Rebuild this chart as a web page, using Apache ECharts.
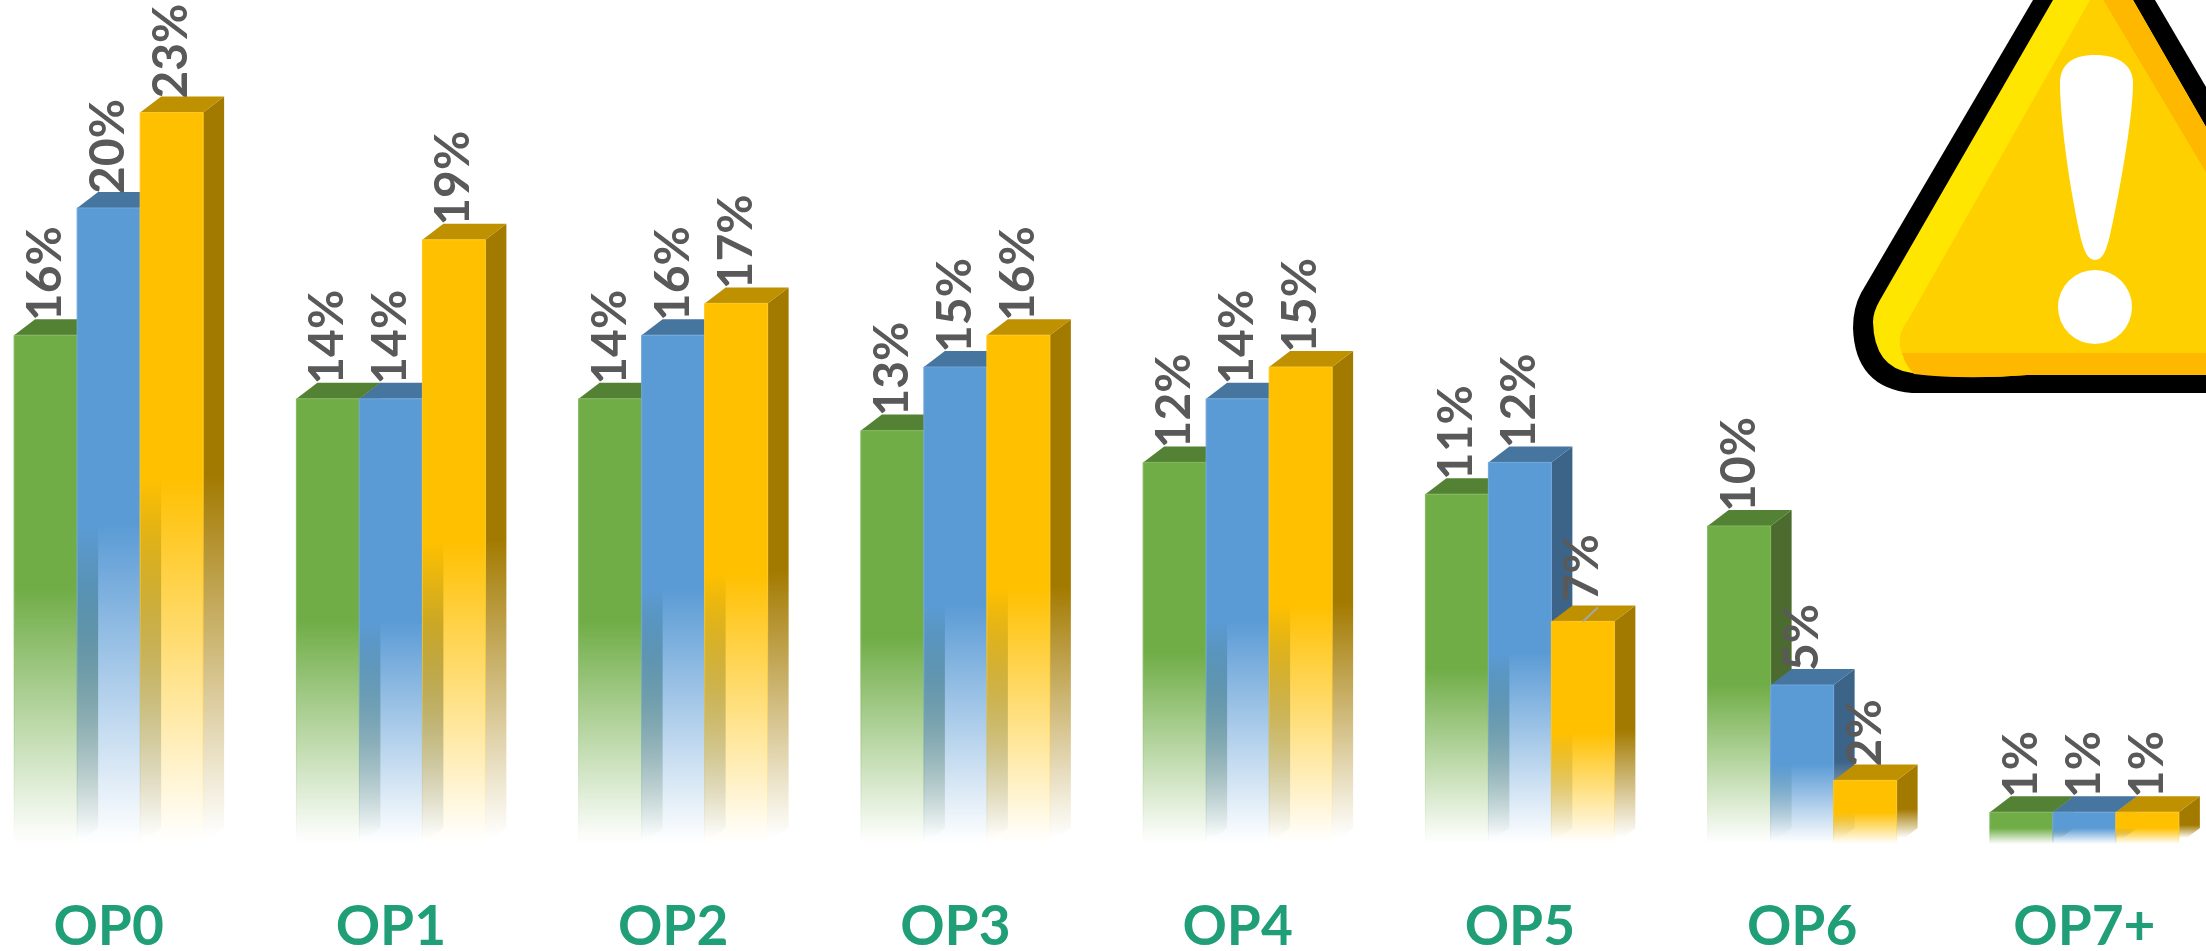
<!DOCTYPE html>
<html>
<head>
<meta charset="utf-8">
<style>html,body{margin:0;padding:0;background:#fff}#chart{width:2206px;height:951px}</style>
<script src="https://cdn.jsdelivr.net/npm/echarts@6/dist/echarts.min.js"></script>
</head>
<body>
<div id="chart"></div>
<script>
const categories = ['OP0', 'OP1', 'OP2', 'OP3', 'OP4', 'OP5', 'OP6', 'OP7+'];
const greenValues = [16, 14, 14, 13, 12, 11, 10, 1];
const blueValues = [20, 14, 16, 15, 14, 12, 5, 1];
const yellowValues = [23, 19, 17, 16, 15, 7, 2, 1];

// front, top and side face colours of each column
const palettes = [
  { front: [112, 173, 71], top: [84, 130, 53], side: [75, 108, 46] },
  { front: [91, 155, 213], top: [70, 117, 160], side: [60, 100, 137] },
  { front: [255, 192, 0], top: [191, 144, 0], side: [163, 122, 0] }
];
const BAR_W = 63, DEPTH_X = 21, DEPTH_Y = 16, LABEL_GAP = 14, LEADER_LIFT = 6;

function rgba(c, a) { return 'rgba(' + c[0] + ',' + c[1] + ',' + c[2] + ',' + a + ')'; }

// Solid in the upper half of the column, fading to nothing at its foot.
function fade(c, topY, baseY) {
  return new echarts.graphic.LinearGradient(0, topY, 0, baseY, [
    { offset: 0, color: rgba(c, 1) },
    { offset: 0.5, color: rgba(c, 1) },
    { offset: 0.98, color: rgba(c, 0.03) },
    { offset: 1, color: rgba(c, 0) }
  ], true);
}
function fadeEdge(c, topY, baseY) {
  const light = c.map(v => Math.round(v + (255 - v) * 0.12));
  return fade(light, topY, baseY);
}

// x offset of a column inside its category band
function slotX(api, slot) {
  const cx = api.coord([api.value(0), 0])[0];
  return cx - BAR_W * 1.5 + BAR_W * slot;
}

function barRenderer(slot) {
  const pal = palettes[slot];
  return function (params, api) {
    const x0 = slotX(api, slot), x1 = x0 + BAR_W;
    const yBase = api.coord([api.value(0), 0])[1];
    const yTop = api.coord([api.value(0), api.value(1)])[1];
    return {
      type: 'group',
      children: [
        { type: 'polygon', shape: { points: [[x1, yTop], [x1 + DEPTH_X, yTop - DEPTH_Y], [x1 + DEPTH_X, yBase - DEPTH_Y], [x1, yBase]] },
          style: { fill: new echarts.graphic.LinearGradient(0, yTop, 0, yBase - 6, [
            { offset: 0, color: rgba(pal.side, 1) }, { offset: 0.5, color: rgba(pal.side, 1) }, { offset: 1, color: rgba(pal.side, 0) }
          ], true) } },
        { type: 'polygon', shape: { points: [[x0, yTop], [x0 + DEPTH_X, yTop - DEPTH_Y], [x1 + DEPTH_X, yTop - DEPTH_Y], [x1, yTop]] },
          style: { fill: rgba(pal.top, 1) } },
        { type: 'rect', shape: { x: x0, y: yTop, width: BAR_W, height: yBase - yTop },
          style: { fill: fade(pal.front, yTop, yBase), stroke: fadeEdge(pal.front, yTop, yBase), lineWidth: 1 } }
      ]
    };
  };
}

function labelRenderer(slot) {
  return function (params, api) {
    const x = slotX(api, slot) + BAR_W / 2;
    const yTop = api.coord([api.value(0), api.value(1)])[1];
    // The one label pulled away from its column keeps a short leader line.
    const pulled = slot === 2 && api.value(1) === 7;
    const children = [{
      type: 'text',
      x: x, y: yTop - LABEL_GAP - (pulled ? LEADER_LIFT : 0), rotation: Math.PI / 2,
      style: {
        text: api.value(1) + '%', align: 'left', verticalAlign: 'middle',
        font: 'bold 48px Lato', fill: '#595959'
      }
    }];
    if (pulled) {
      children.push({
        type: 'line', shape: { x1: x, y1: yTop, x2: x + 15, y2: yTop - 14 },
        style: { stroke: '#A6A6A6', lineWidth: 2 }
      });
    }
    return { type: 'group', children: children };
  };
}

// Warning sign standing in the upper right corner
const signPaths = [
  { fill: '#000000', d: 'M2033,0 L1861,293 Q1853,308 1853,328 Q1855,388 1912,393 L2206,393 L2206,87 L2155,0 Z' },
  { fill: '#FFE600', d: 'M2053,0 L1880,300 Q1873,312 1873,322 Q1874,368 1912,373 Q1965,380 2027,375 L2206,375 L2206,127 L2133,0 Z' },
  { fill: '#FFB800', d: 'M2103,0 L2133,0 L2206,127 L2206,375 L2027,375 Q1965,380 1914,374 Q1905,365 1902,353 L2206,353 L2206,173 Z' },
  { fill: '#FFD000', d: 'M2090,0 L2103,0 L2206,173 L2206,353 L1902,353 Q1895,337 1908,320 Z' },
  { fill: '#FFFFFF', d: 'M2095,55 C2072,55 2060,65 2060,83 C2060,110 2066,170 2080,235 C2084,252 2088,260 2095,260 C2102,260 2106,252 2110,235 C2124,170 2133,110 2133,83 C2133,65 2118,55 2095,55 Z' }
];
function signRenderer() {
  const children = signPaths.map(p => ({ type: 'path', shape: { pathData: p.d }, style: { fill: p.fill } }));
  children.push({ type: 'circle', shape: { cx: 2095, cy: 307, r: 37 }, style: { fill: '#FFFFFF' } });
  return { type: 'group', children: children };
}

const valueSets = [greenValues, blueValues, yellowValues];
const seriesList = [];
valueSets.forEach((vals, slot) => {
  seriesList.push({
    type: 'custom', z: 2 + slot, silent: true, clip: false,
    renderItem: barRenderer(slot),
    encode: { x: 0, y: 1 },
    data: vals.map((v, i) => [i, v])
  });
});
valueSets.forEach((vals, slot) => {
  seriesList.push({
    type: 'custom', z: 10, silent: true, clip: false,
    renderItem: labelRenderer(slot),
    encode: { x: 0, y: 1 },
    data: vals.map((v, i) => [i, v])
  });
});
seriesList.push({ type: 'custom', z: 20, silent: true, clip: false, renderItem: signRenderer, data: [[0, 0]], encode: { x: 0, y: 1 } });

const chart = echarts.init(document.getElementById('chart'), null, { renderer: 'canvas' });
chart.setOption({
  animation: false,
  backgroundColor: '#ffffff',
  grid: { left: -32.5, top: 49, width: 2258, height: 795, containLabel: false, outerBoundsMode: 'none' },
  xAxis: {
    type: 'category', data: categories,
    axisLine: { show: false }, axisTick: { show: false }, splitLine: { show: false },
    axisLabel: {
      interval: 0, margin: 50, lineHeight: 66,
      fontFamily: 'Lato', fontWeight: 'bold', fontSize: 55, color: '#209E77'
    }
  },
  yAxis: { type: 'value', min: 0, max: 25, show: false },
  series: seriesList
});
</script>
</body>
</html>
